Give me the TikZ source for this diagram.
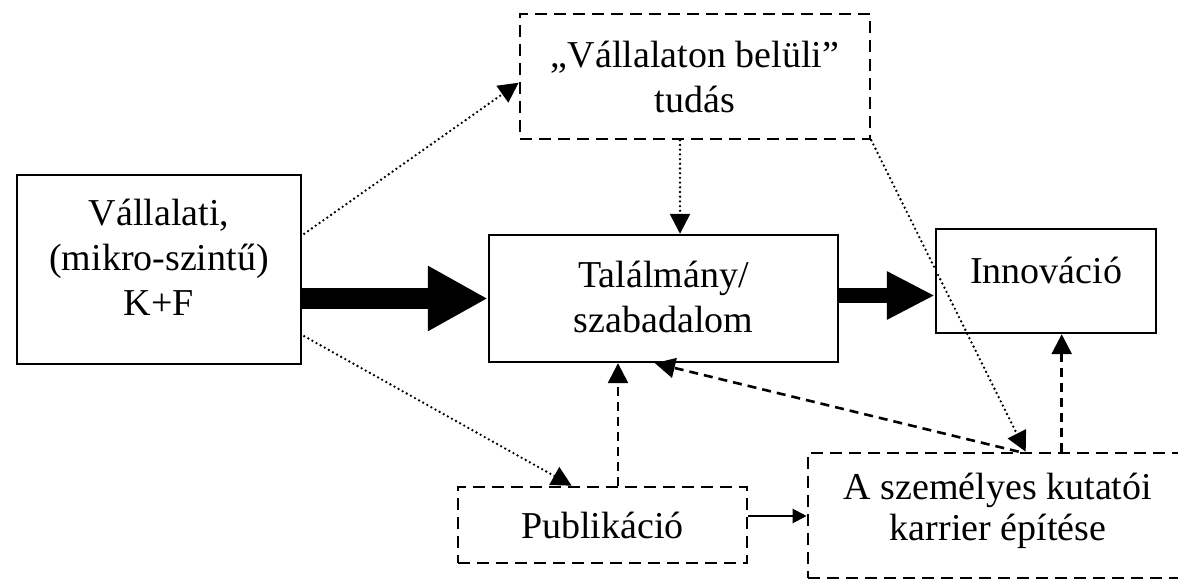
\documentclass[tikz,border=0pt]{standalone}
\usepackage{fontspec}
\setmainfont{Liberation Serif}
\usetikzlibrary{arrows.meta,calc}

\begin{document}
\begin{tikzpicture}[x=0.5pt,y=-0.5pt,
  box/.style={draw, line width=1.2pt, inner sep=0pt},
  dbox/.style={draw, line width=1.3pt, dash pattern=on 6pt off 3.5pt, inner sep=0pt},
  txt/.style={font=\fontsize{19}{22.5}\selectfont, align=center, inner sep=0pt},
  txtk/.style={font=\fontsize{19}{20.5}\selectfont, align=center, inner sep=0pt},
  dotline/.style={line width=1.3pt, line cap=round, dash pattern=on 0pt off 2.35pt,
    -{Triangle[length=10pt,width=10pt]}},
  dashline/.style={line width=1.3pt, dash pattern=on 4.5pt off 3pt,
    -{Triangle[length=10pt,width=10pt]}},
  solidarrow/.style={line width=1.1pt, -{Triangle[length=7pt,width=7pt]}},
  bigarrow/.style={line width=10.5pt, -{Triangle[length=30pt,width=30.5pt]}},
  midarrow/.style={line width=7.5pt, -{Triangle[length=24pt,width=22.5pt]}}
]
\useasboundingbox (0,0) rectangle (1178,582);
\fill[white] (0,0) rectangle (1178,582);

% boxes
\node[box, minimum width=142pt, minimum height=94.5pt,
  label={[txt,yshift=6pt]center:{Vállalati,\\(mikro-szintű)\\K+F}}] (rd) at (159,269.5) {};
\node[dbox, minimum width=175pt, minimum height=62.5pt,
  label={[txt]center:{„Vállalaton belüli”\\tudás}}] (tb) at (695,76.5) {};
\node[box, minimum width=174.5pt, minimum height=63.5pt,
  label={[txt,yshift=1pt]center:{Találmány/\\szabadalom}}] (mid) at (663.5,298.5) {};
\node[box, minimum width=110pt, minimum height=52pt,
  label={[txt,yshift=5.5pt]center:{Innováció}}] (innov) at (1046,281) {};
\node[dbox, minimum width=144.5pt, minimum height=38pt,
  label={[txt]center:{Publikáció}}] (pub) at (602.5,525) {};
\node[dbox, minimum width=191pt, minimum height=62.5pt,
  label={[txtk,yshift=2.5pt,xshift=-0.5pt]center:{A személyes kutatói\\karrier építése}}] (kar) at (999,515.5) {};

% main flow
\draw[bigarrow] (rd.east |- mid.west) -- (mid.west);
\draw[midarrow] ($(mid.east)+(0,-3)$) -- ($(mid.east -| innov.west)+(0,-3)$);

% dotted links
\draw[dotline] ($(rd.north east)+(2,60)$) -- ($(tb.north west)+(0,70)$);
\draw[dotline] ($(rd.south east)+(2,-29)$) -- ($(pub.north west)+(115,0)$);
\coordinate (t1) at ($(tb.south)+(-15,0)$);
\draw[dotline] (t1) -- (t1 |- mid.north);
\draw[dotline] (tb.south east) -- ($(kar.north west)+(219,0)$);

% dashed feedback links
\coordinate (p1) at ($(pub.north)+(15.5,0)$);
\draw[dashline] (p1) -- (p1 |- mid.south);
\draw[dashline] ($(kar.north west)+(212,0)$) -- ($(mid.south)+(-8.5,0)$);
\coordinate (k1) at ($(kar.north west)+(255,0)$);
\draw[dashline] (k1) -- (k1 |- innov.south);

% publication to career
\coordinate (p2) at ($(pub.east)+(0,-9)$);
\draw[solidarrow] (p2) -- (p2 -| kar.west);
\end{tikzpicture}
\end{document}
